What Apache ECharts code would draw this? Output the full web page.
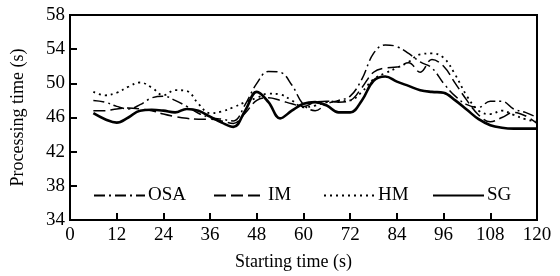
<!DOCTYPE html>
<html>
<head>
<meta charset="utf-8">
<script src="https://cdn.jsdelivr.net/npm/echarts@6/dist/echarts.min.js"></script>
<style>
  html, body { margin: 0; padding: 0; background: #fff; }
  #main { width: 560px; height: 276px; }
</style>
</head>
<body>
<div id="main"></div>
<script>
const times = [6, 9, 12, 15, 18, 21, 24, 27, 30, 33, 36, 39, 42, 45, 48, 51, 54, 57, 60, 63,
  66, 69, 72, 75, 78, 81, 84, 87, 90, 93, 96, 99, 102, 105, 108, 111, 114, 117, 120];

const osa = [48.0, 47.8, 47.3, 47.0, 47.5, 48.3, 48.5, 48.0, 47.3, 46.5, 46.0, 45.8, 45.6, 47.5, 50.0, 51.4, 51.3, 49.8, 47.5, 46.8,
  47.6, 48.0, 48.5, 50.5, 53.5, 54.5, 54.3, 53.5, 52.5, 51.8, 50.0, 48.5, 47.5, 47.2, 47.9, 47.9, 47.0, 46.6, 46.0];
const im = [46.8, 46.8, 47.0, 47.1, 47.0, 46.8, 46.4, 46.1, 45.9, 45.8, 45.8, 45.6, 45.3, 46.5, 48.0, 48.3, 48.0, 47.6, 47.3, 47.8,
  47.9, 47.8, 48.0, 49.5, 51.3, 51.8, 51.9, 52.4, 51.3, 52.8, 52.0, 50.0, 48.0, 46.3, 45.5, 46.0, 46.6, 46.2, 45.3];
const hm = [49.0, 48.6, 48.9, 49.6, 50.1, 49.5, 48.6, 49.2, 49.1, 47.6, 46.5, 46.7, 47.2, 47.8, 48.3, 48.8, 48.7, 48.0, 47.2, 47.4,
  47.8, 47.9, 48.0, 49.0, 50.5, 51.2, 51.8, 52.5, 53.4, 53.5, 53.0, 51.0, 48.5, 46.8, 46.4, 46.8, 46.3, 45.8, 45.5];
const sg = [46.5, 45.8, 45.4, 46.0, 46.8, 46.9, 46.8, 46.6, 47.0, 46.8, 46.1, 45.4, 44.9, 46.8, 49.0, 47.8, 45.9, 46.8, 47.6, 47.8,
  47.4, 46.6, 46.6, 48.0, 50.3, 50.8, 50.2, 49.7, 49.2, 49.0, 48.9, 48.0, 46.9, 45.8, 45.1, 44.8, 44.7, 44.7, 44.7];

const xTicks = [0, 12, 24, 36, 48, 60, 72, 84, 96, 108, 120];
const yTicks = [34, 38, 42, 46, 50, 54, 58];

const names = ['OSA', 'IM', 'HM', 'SG'];
const values = [osa, im, hm, sg];
const dashes = [[11, 4, 2, 4], [12, 5], [2, 4], 'solid'];
const widths = [1.5, 1.5, 1.8, 2.6];
const legendLeft = [93, 213, 323, 432];

const font = '"Liberation Serif", "Times New Roman", serif';
const myChart = echarts.init(document.querySelector('#main'), null, { renderer: 'canvas' });

const option = {
  backgroundColor: '#fff',
  animation: false,
  textStyle: { fontFamily: font, color: '#000' },
  grid: {
    left: 70, right: 23, top: 15, bottom: 50,
    show: true, borderColor: '#000', borderWidth: 2, backgroundColor: 'transparent'
  },
  legend: names.map((n, i) => ({
    data: [n],
    left: legendLeft[i],
    top: 186,
    itemWidth: 51,
    itemHeight: 14,
    itemGap: 0,
    padding: 0,
    itemStyle: { opacity: 0 },
    textStyle: { fontFamily: font, fontSize: 19, color: '#000', padding: [0, 0, 0, -2] }
  })),
  xAxis: {
    type: 'value',
    min: 0, max: 120, interval: 12,
    name: 'Starting time (s)',
    nameLocation: 'middle',
    nameGap: 33,
    nameTextStyle: { fontFamily: font, fontSize: 18, color: '#000', padding: [0, 20, 0, 0] },
    axisLine: { lineStyle: { color: '#000', width: 2 } },
    axisTick: { inside: true, length: 7, lineStyle: { color: '#000', width: 2 } },
    axisLabel: { fontFamily: font, fontSize: 19, color: '#000', margin: 6,
      formatter: v => xTicks.includes(v) ? String(v) : '' },
    splitLine: { show: false }
  },
  yAxis: {
    type: 'value',
    min: 34, max: 58, interval: 4,
    name: 'Processing time (s)',
    nameLocation: 'middle',
    nameGap: 43,
    nameTextStyle: { fontFamily: font, fontSize: 18, color: '#000' },
    axisLine: { show: true, lineStyle: { color: '#000', width: 2 } },
    axisTick: { show: true, inside: true, length: 7, lineStyle: { color: '#000', width: 2 } },
    axisLabel: { fontFamily: font, fontSize: 19, color: '#000', margin: 5,
      formatter: v => yTicks.includes(v) ? String(v) : '' },
    splitLine: { show: false }
  },
  series: names.map((n, i) => ({
    name: n,
    type: 'line',
    smooth: 0.4,
    symbol: 'none',
    data: times.map((t, j) => [t, values[i][j]]),
    lineStyle: { color: '#000', width: widths[i], type: dashes[i] },
    itemStyle: { color: '#000' }
  }))
};

option && myChart.setOption(option);
</script>
</body>
</html>
